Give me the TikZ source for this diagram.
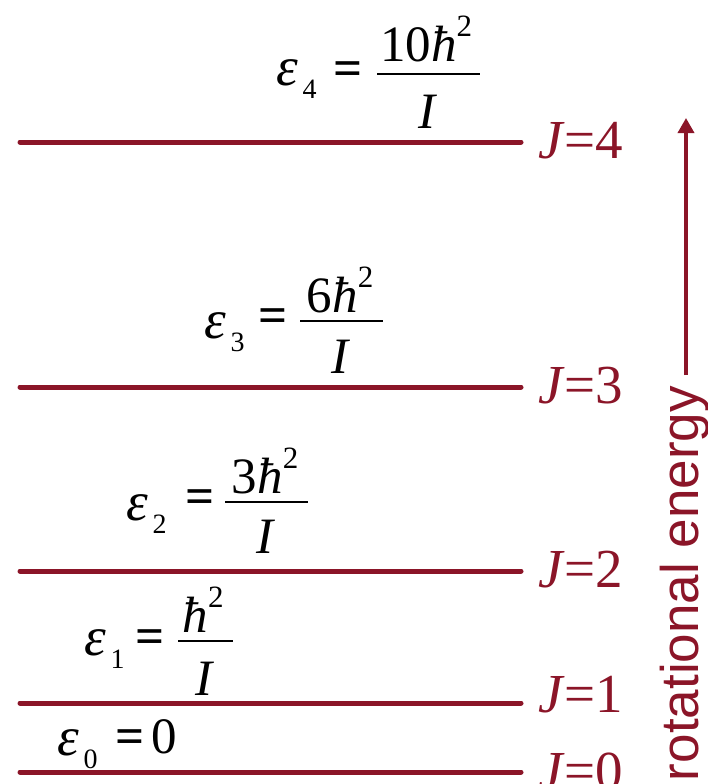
\documentclass[tikz,border=0pt]{standalone}
\usepackage{fontspec}
\setmainfont{Liberation Serif}
\setsansfont{Liberation Sans}
\usetikzlibrary{arrows.meta}
\definecolor{lvl}{RGB}{139,21,40}
\newcommand\mfs{\fontsize{51}{51}\selectfont}
\newcommand\efs{\fontsize{55}{55}\selectfont}
\newcommand\subfs{\fontsize{28}{28}\selectfont}
\newcommand\supfs{\fontsize{31}{31}\selectfont}
\newcommand\jfs{\fontsize{55}{55}\selectfont}
\newcommand\eps[1]{{\efs\textit{ε}}\hspace{5pt}\raisebox{-13pt}{\subfs #1}}
\newcommand\hsq{\textit{ħ}\raisebox{25pt}{\supfs 2}}
\newcommand\eqs{\textbf{=}}
\begin{document}
\begin{tikzpicture}[x=1pt,y=-1pt,
  txt/.style={inner sep=0pt,outer sep=0pt,font=\mfs},
  jlab/.style={inner sep=0pt,outer sep=0pt,font=\jfs,text=lvl,anchor=base west},
  level/.style={draw=lvl,line width=5pt,line cap=round},
  fracbar/.style={draw=black,line width=1.6pt}]
\useasboundingbox (0,0) rectangle (708,784);

% energy levels
\foreach \n/\y in {4/142,3/387,2/571,1/703,0/772}{
  \coordinate (L\n a) at (20,\y);
  \coordinate (L\n b) at (521,\y);
  \draw[level] (L\n a) -- (L\n b);
}

% J labels
\node[jlab] (J4) at (538,158) {\textit{J}=4};
\node[jlab] (J3) at (538,403) {\textit{J}=3};
\node[jlab] (J2) at (538,587) {\textit{J}=2};
\node[jlab] (J1) at (538,712) {\textit{J}=1};
\node[jlab] (J0) at (538,789) {\textit{J}=0};

% epsilon 4
\node[txt,anchor=base west] (e4) at (276,85) {\eps{4}};
\node[txt] (q4) at (348,74) {\eqs};
\coordinate (b4a) at (377,74); \coordinate (b4b) at (480,74);
\draw[fracbar] (b4a) -- (b4b);
\node[txt,anchor=base] (n4) at (426,62) {10\hsq};
\node[txt,anchor=base] (d4) at (428,128) {\textit{I}};

% epsilon 3
\node[txt,anchor=base west] (e3) at (204,338) {\eps{3}};
\node[txt] (q3) at (273,321) {\eqs};
\coordinate (b3a) at (300,321); \coordinate (b3b) at (383,321);
\draw[fracbar] (b3a) -- (b3b);
\node[txt,anchor=base] (n3) at (340,312) {6\hsq};
\node[txt,anchor=base] (d3) at (341,373) {\textit{I}};

% epsilon 2
\node[txt,anchor=base west] (e2) at (126,520) {\eps{2}};
\node[txt] (q2) at (200,502) {\eqs};
\coordinate (b2a) at (225,502); \coordinate (b2b) at (308,502);
\draw[fracbar] (b2a) -- (b2b);
\node[txt,anchor=base] (n2) at (265,493) {3\hsq};
\node[txt,anchor=base] (d2) at (266,553) {\textit{I}};

% epsilon 1
\node[txt,anchor=base west] (e1) at (84,655) {\eps{1}};
\node[txt] (q1) at (150,642) {\eqs};
\coordinate (b1a) at (178,641); \coordinate (b1b) at (233,641);
\draw[fracbar] (b1a) -- (b1b);
\node[txt,anchor=base] (n1) at (203,632) {\hsq};
\node[txt,anchor=base] (d1) at (205,695) {\textit{I}};

% epsilon 0
\node[txt,anchor=base west] (e0) at (57,755) {\eps{0}};
\node[txt] (q0) at (130,742) {\eqs};
\node[txt,anchor=base west] (z0) at (151,753) {0};

% rotational energy axis
\node[inner sep=0pt,outer sep=0pt,font=\sffamily\fontsize{53}{53}\selectfont,text=lvl,
      rotate=90,anchor=base west] (axis) at (698,781) {rotational energy};
\coordinate (ar0) at (686,375);
\coordinate (ar1) at (686,118);
\draw[draw=lvl,line width=3.5pt,-{Triangle[width=16pt,length=15pt]}] (ar0) -- (ar1);
\end{tikzpicture}
\end{document}
